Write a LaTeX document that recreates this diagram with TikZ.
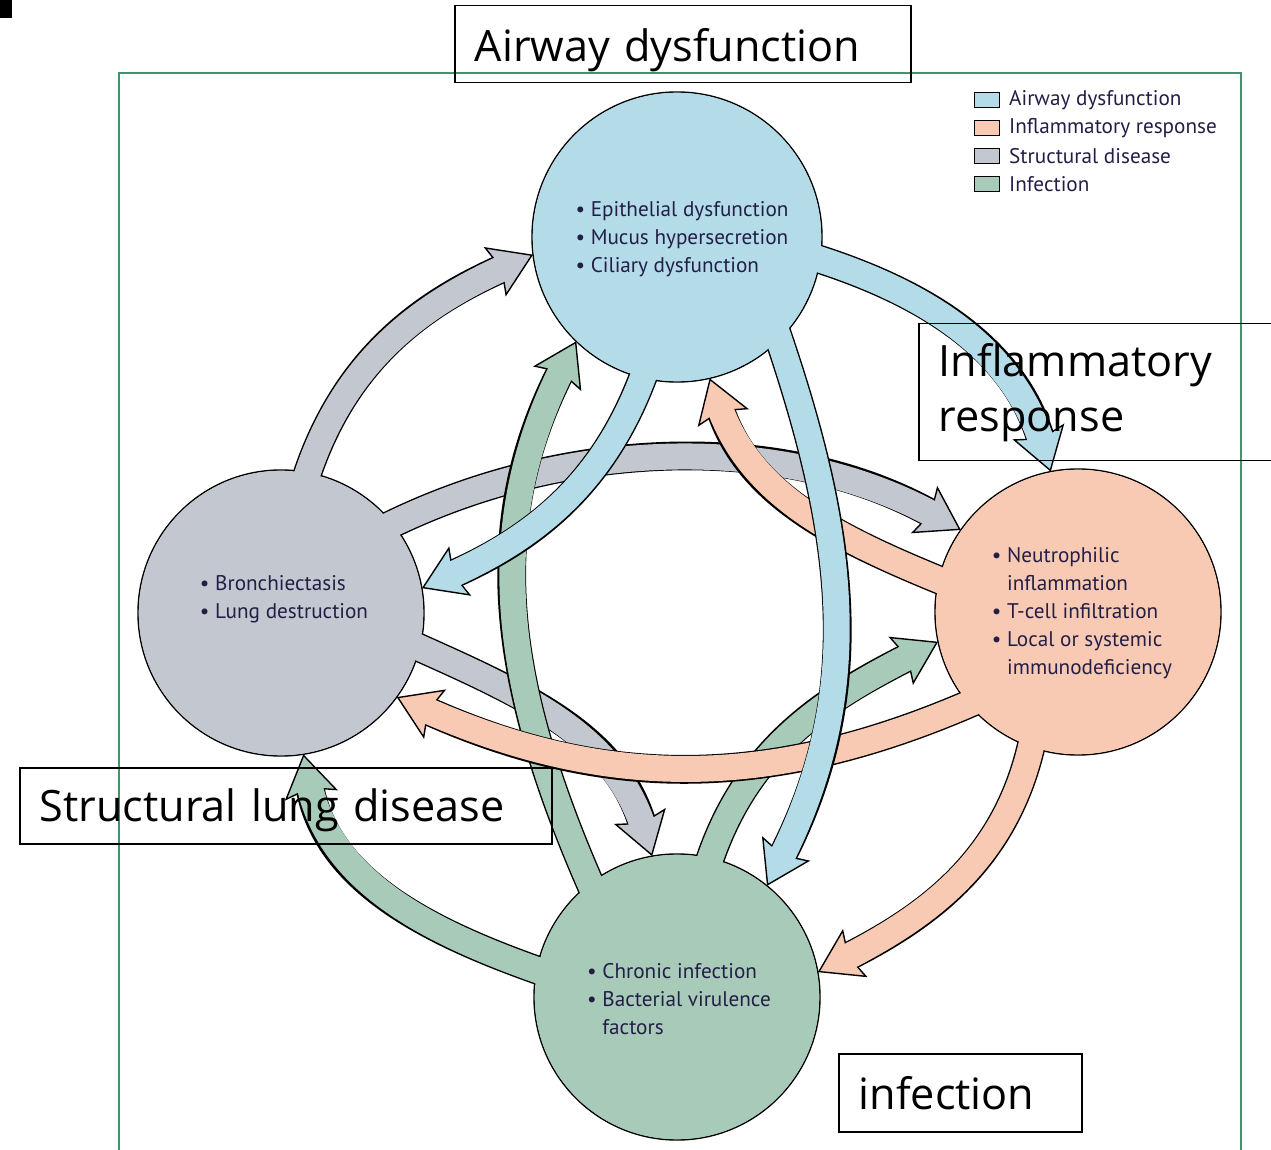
\documentclass[tikz,border=0pt]{standalone}
\usepackage{fontspec}
\setmainfont{PT Sans}
\newfontfamily\lblfont{Open Sans}
\usetikzlibrary{arrows.meta,calc,positioning}

\definecolor{airblue}{RGB}{179,220,232}
\definecolor{inflpink}{RGB}{249,202,179}
\definecolor{structgrey}{RGB}{195,199,207}
\definecolor{infgreen}{RGB}{168,203,185}
\definecolor{framegreen}{RGB}{64,150,108}
\definecolor{navy}{RGB}{35,30,70}

\begin{document}
\begin{tikzpicture}[
  x=0.5pt, y=-0.5pt,
  bubble/.style={circle, draw, line width=0.7pt, inner sep=0pt, outer sep=0pt, minimum size=#1},
  txt/.style={align=left, text=navy, font=\fontsize{10.6}{14}\selectfont},
  band/.style={line width=14.4pt, draw=black,
    -{Stealth[length=21pt, width=27pt, inset=3.5pt, line width=0.7pt, color=black, fill=#1]},
    postaction={draw=#1, line width=13pt, shorten >=13.5pt, -}},
  lbl/.style={draw, line width=0.75pt, anchor=north west, align=left, inner xsep=10pt,
    font=\lblfont\fontsize{21.6}{27.5}\selectfont},
  key/.style={draw, line width=0.6pt, minimum width=12.5pt, minimum height=7.5pt, inner sep=0pt, fill=#1}
]
  \useasboundingbox (0,0) rectangle (1271,1150);
  \clip (0,0) rectangle (1271,1150);

  \fill (0,0) rectangle (12,18);
  \draw[framegreen, line width=0.75pt] (119,1170) |- (1241,73) -- (1241,1170);

  \node[bubble=145pt, fill=airblue]    (air)  at (677,237) {};
  \node[bubble=143pt, fill=structgrey] (str)  at (281,613) {};
  \node[bubble=143pt, fill=inflpink]   (infl) at (1078,612) {};
  \node[bubble=143pt, fill=infgreen]   (inf)  at (677,997) {};

  \draw[band=structgrey] ($(str)!.9!(str.80)$)  to[out=73, in=204] (air.187);
  \draw[band=structgrey] ($(str)!.9!(str.40)$)  to[out=27, in=151, looseness=.9] (infl.145);
  \draw[band=structgrey] ($(str)!.9!(str.-13)$) to[out=-24, in=107] (inf.100);

  \draw[band=infgreen] ($(inf)!.9!(inf.170)$) to[out=161, in=-79] (str.-81);
  \draw[band=infgreen] ($(inf)!.9!(inf.129)$) to[out=114, in=-117] (air.-134);
  \draw[band=infgreen] ($(inf)!.9!(inf.77)$)  to[out=73, in=207] (infl.192);

  \draw[band=inflpink] ($(infl)!.9!(infl.168)$)  to[out=158, in=-71] (air.-77);
  \draw[band=inflpink] ($(infl)!.9!(infl.-138)$) to[out=-156, in=-24] (str.-36);
  \draw[band=inflpink] ($(infl)!.9!(infl.-110)$) to[out=-101, in=27] (inf.10);

  \draw[band=airblue] ($(air)!.9!(air.-8)$)   to[out=-17, in=107] (infl.101);
  \draw[band=airblue] ($(air)!.9!(air.-103)$) to[out=-109, in=24] (str.10);
  \draw[band=airblue] ($(air)!.9!(air.-42)$)  to[out=-71, in=63] (inf.51);

  \fill[airblue]    (air)  circle[radius=144.2];
  \fill[structgrey] (str)  circle[radius=142.2];
  \fill[inflpink]   (infl) circle[radius=142.2];
  \fill[infgreen]   (inf)  circle[radius=142.2];

  \node[txt] (airtxt) at (682,239) {\textbullet\ Epithelial dysfunction\\\textbullet\ Mucus hypersecretion\\\textbullet\ Ciliary dysfunction};
  \node[txt] (strtxt) at (284,599) {\textbullet\ Bronchiectasis\\\textbullet\ Lung destruction};
  \node[txt] (infltxt) at (1082,613) {\textbullet\ Neutrophilic\\\phantom{\textbullet\ }inflammation\\\textbullet\ T-cell infiltration\\\textbullet\ Local or systemic\\\phantom{\textbullet\ }immunodeficiency};
  \node[txt] (inftxt) at (679,999) {\textbullet\ Chronic infection\\\textbullet\ Bacterial virulence\\\phantom{\textbullet\ }factors};

  \node[key=airblue]    (k1) at (987,100) {};
  \node[key=inflpink]   (k2) at (987,128) {};
  \node[key=structgrey] (k3) at (987,156) {};
  \node[key=infgreen]   (k4) at (987,184) {};
  \node[txt, right=1pt of k1] {Airway dysfunction};
  \node[txt, right=1pt of k2] {Inflammatory response};
  \node[txt, right=1pt of k3] {Structural disease};
  \node[txt, right=1pt of k4] {Infection};

  \node[lbl, text width=208pt, text height=22pt, minimum height=38.5pt] (airlbl) at (454,5) {Airway dysfunction};
  \node[lbl, text width=166pt, minimum height=68.5pt] (infllbl) at (918,323) {Inflammatory\\response};
  \node[lbl, text width=246pt, text height=21pt, minimum height=38pt] (strlbl) at (19,767) {Structural lung disease};
  \node[lbl, text width=101.5pt, minimum height=39pt] (inflbl) at (838,1053) {infection};
\end{tikzpicture}
\end{document}
